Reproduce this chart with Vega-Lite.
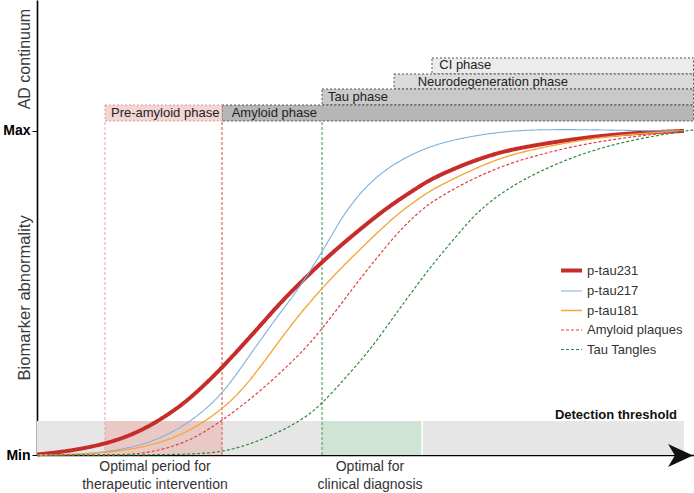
{
  "$schema": "https://vega.github.io/schema/vega-lite/v6.json",
  "width": 657,
  "height": 455,
  "autosize": {"type": "none"},
  "padding": {"left": 37, "top": 0, "right": 0, "bottom": 38},
  "config": {
    "font": "Liberation Sans",
    "view": {"stroke": null},
    "axis": {"grid": false, "title": null},
    "axisX": {"domainColor": "#000", "domainWidth": 1.6, "ticks": false, "labels": false},
    "axisY": {"domainColor": "#000", "domainWidth": 1.6, "tickColor": "#000", "tickSize": 5, "labelFontSize": 14, "labelFontWeight": "bold", "labelColor": "#000", "labelPadding": 2, "labelFlush": false, "labelOverlap": false}
  },
  "resolve": {"scale": {"fill": "independent"}},
  "datasets": {
    "curves": [
      {"series": "p-tau231", "t": 0, "v": 0.15}, {"series": "p-tau231", "t": 5.02, "v": 1.23}, {"series": "p-tau231", "t": 10.35, "v": 3.4}, {"series": "p-tau231", "t": 14.16, "v": 6.0}, {"series": "p-tau231", "t": 17.5, "v": 9.3}, {"series": "p-tau231", "t": 21.77, "v": 14.9}, {"series": "p-tau231", "t": 24.81, "v": 20.3}, {"series": "p-tau231", "t": 28.16, "v": 26.85}, {"series": "p-tau231", "t": 33.94, "v": 39.81}, {"series": "p-tau231", "t": 36.99, "v": 46.91}, {"series": "p-tau231", "t": 40.03, "v": 53.09}, {"series": "p-tau231", "t": 43.38, "v": 59.57}, {"series": "p-tau231", "t": 47.18, "v": 66.36}, {"series": "p-tau231", "t": 52.21, "v": 74.69}, {"series": "p-tau231", "t": 55.25, "v": 79.01}, {"series": "p-tau231", "t": 58.3, "v": 83.02}, {"series": "p-tau231", "t": 60.27, "v": 85.49}, {"series": "p-tau231", "t": 65.45, "v": 90.12}, {"series": "p-tau231", "t": 70.47, "v": 93.52}, {"series": "p-tau231", "t": 75.04, "v": 95.37}, {"series": "p-tau231", "t": 82.65, "v": 97.84}, {"series": "p-tau231", "t": 90.26, "v": 99.38}, {"series": "p-tau231", "t": 98.48, "v": 100},
      {"series": "p-tau217", "t": 0, "v": 0}, {"series": "p-tau217", "t": 5.02, "v": 0.15}, {"series": "p-tau217", "t": 10.35, "v": 0.77}, {"series": "p-tau217", "t": 17.2, "v": 3.4}, {"series": "p-tau217", "t": 23.29, "v": 9.88}, {"series": "p-tau217", "t": 28.16, "v": 18.52}, {"series": "p-tau217", "t": 31.66, "v": 28.7}, {"series": "p-tau217", "t": 35.01, "v": 38.3}, {"series": "p-tau217", "t": 36.99, "v": 43.83}, {"series": "p-tau217", "t": 40.03, "v": 51.85}, {"series": "p-tau217", "t": 43.38, "v": 62.65}, {"series": "p-tau217", "t": 45.81, "v": 71.2}, {"series": "p-tau217", "t": 47.18, "v": 75.6}, {"series": "p-tau217", "t": 49.62, "v": 81.9}, {"series": "p-tau217", "t": 52.21, "v": 86.7}, {"series": "p-tau217", "t": 54.79, "v": 90.4}, {"series": "p-tau217", "t": 58.3, "v": 94.0}, {"series": "p-tau217", "t": 61.34, "v": 96.2}, {"series": "p-tau217", "t": 65.45, "v": 98.15}, {"series": "p-tau217", "t": 70.47, "v": 99.69}, {"series": "p-tau217", "t": 75.04, "v": 100.4}, {"series": "p-tau217", "t": 82.65, "v": 100.46}, {"series": "p-tau217", "t": 90.26, "v": 100.15}, {"series": "p-tau217", "t": 98.48, "v": 100},
      {"series": "p-tau181", "t": 0, "v": 0}, {"series": "p-tau181", "t": 5.02, "v": 0.06}, {"series": "p-tau181", "t": 10.35, "v": 0.62}, {"series": "p-tau181", "t": 17.2, "v": 2.62}, {"series": "p-tau181", "t": 22.83, "v": 6.79}, {"series": "p-tau181", "t": 28.16, "v": 13.89}, {"series": "p-tau181", "t": 31.66, "v": 20.99}, {"series": "p-tau181", "t": 35.01, "v": 29.94}, {"series": "p-tau181", "t": 38.96, "v": 41.05}, {"series": "p-tau181", "t": 43.38, "v": 51.54}, {"series": "p-tau181", "t": 47.18, "v": 59.57}, {"series": "p-tau181", "t": 52.21, "v": 69.44}, {"series": "p-tau181", "t": 55.25, "v": 75}, {"series": "p-tau181", "t": 58.3, "v": 79.4}, {"series": "p-tau181", "t": 60.27, "v": 82.1}, {"series": "p-tau181", "t": 65.45, "v": 87.35}, {"series": "p-tau181", "t": 70.47, "v": 91.67}, {"series": "p-tau181", "t": 75.04, "v": 94.14}, {"series": "p-tau181", "t": 82.65, "v": 97.22}, {"series": "p-tau181", "t": 90.26, "v": 99.07}, {"series": "p-tau181", "t": 98.48, "v": 100},
      {"series": "Amyloid plaques", "t": 0, "v": 0}, {"series": "Amyloid plaques", "t": 10.35, "v": 0}, {"series": "Amyloid plaques", "t": 14.16, "v": 0.15}, {"series": "Amyloid plaques", "t": 17.2, "v": 0.77}, {"series": "Amyloid plaques", "t": 22.83, "v": 3.7}, {"series": "Amyloid plaques", "t": 28.16, "v": 10.49}, {"series": "Amyloid plaques", "t": 33.94, "v": 19.5}, {"series": "Amyloid plaques", "t": 40.03, "v": 31.0}, {"series": "Amyloid plaques", "t": 43.38, "v": 38.8}, {"series": "Amyloid plaques", "t": 47.64, "v": 50.3}, {"series": "Amyloid plaques", "t": 49.62, "v": 55.5}, {"series": "Amyloid plaques", "t": 54.79, "v": 68.6}, {"series": "Amyloid plaques", "t": 58.3, "v": 75.3}, {"series": "Amyloid plaques", "t": 60.27, "v": 78.4}, {"series": "Amyloid plaques", "t": 65.45, "v": 84.5}, {"series": "Amyloid plaques", "t": 70.47, "v": 88.9}, {"series": "Amyloid plaques", "t": 75.04, "v": 92.0}, {"series": "Amyloid plaques", "t": 82.65, "v": 95.8}, {"series": "Amyloid plaques", "t": 90.26, "v": 98.2}, {"series": "Amyloid plaques", "t": 98.48, "v": 100},
      {"series": "Tau Tangles", "t": 0, "v": 0}, {"series": "Tau Tangles", "t": 14.16, "v": 0}, {"series": "Tau Tangles", "t": 21.77, "v": 0.15}, {"series": "Tau Tangles", "t": 28.16, "v": 0.62}, {"series": "Tau Tangles", "t": 33.94, "v": 4.32}, {"series": "Tau Tangles", "t": 40.03, "v": 10.19}, {"series": "Tau Tangles", "t": 43.38, "v": 15.74}, {"series": "Tau Tangles", "t": 47.34, "v": 24.69}, {"series": "Tau Tangles", "t": 50.68, "v": 32.41}, {"series": "Tau Tangles", "t": 53.73, "v": 41.05}, {"series": "Tau Tangles", "t": 55.25, "v": 45.37}, {"series": "Tau Tangles", "t": 58.3, "v": 53.7}, {"series": "Tau Tangles", "t": 60.27, "v": 59.0}, {"series": "Tau Tangles", "t": 65.45, "v": 71.5}, {"series": "Tau Tangles", "t": 67.43, "v": 75.6}, {"series": "Tau Tangles", "t": 70.47, "v": 80.6}, {"series": "Tau Tangles", "t": 75.04, "v": 86.3}, {"series": "Tau Tangles", "t": 82.65, "v": 93.0}, {"series": "Tau Tangles", "t": 90.26, "v": 97.2}, {"series": "Tau Tangles", "t": 98.48, "v": 100}, {"series": "Tau Tangles", "t": 100, "v": 100.3}
    ],
    "bands": [
      {"zone": "Detection threshold", "start": 0, "end": 98.48, "lo": 0, "hi": 10.49},
      {"zone": "Optimal period for therapeutic intervention", "start": 10.35, "end": 28.16, "lo": 0, "hi": 10.49},
      {"zone": "Optimal for clinical diagnosis", "start": 43.38, "end": 58.6, "lo": 0, "hi": 10.49}
    ],
    "phases": [
      {"phase": "CI phase", "start": 60.12, "end": 99.92, "lo": 117.59, "hi": 122.53, "lx": 61.23},
      {"phase": "Neurodegeneration phase", "start": 54.34, "end": 99.92, "lo": 112.96, "hi": 117.59, "lx": 57.94},
      {"phase": "Tau phase", "start": 43.38, "end": 99.92, "lo": 108.02, "hi": 112.96, "lx": 44.3},
      {"phase": "Amyloid phase", "start": 28.16, "end": 99.92, "lo": 103.09, "hi": 108.02, "lx": 29.63},
      {"phase": "Pre-amyloid phase", "start": 10.35, "end": 28.16, "lo": 103.09, "hi": 108.02, "lx": 11.26}
    ]
  },
  "layer": [
    {
      "data": {"name": "bands"},
      "mark": {"type": "rect"},
      "encoding": {
        "x": {"field": "start", "type": "quantitative", "scale": {"domain": [0, 100], "nice": false, "zero": false}, "axis": {"title": null}},
        "x2": {"field": "end"},
        "y": {"field": "lo", "type": "quantitative", "scale": {"domain": [0, 140.43], "nice": false, "zero": false}, "axis": {"title": null}},
        "y2": {"field": "hi"},
        "fill": {"field": "zone", "type": "nominal", "scale": {"domain": ["Detection threshold", "Optimal period for therapeutic intervention", "Optimal for clinical diagnosis"], "range": ["#e6e6e6", "#e9c9c6", "#d0e4d6"]}, "legend": null}
      }
    },
    {
      "data": {"values": [{}]},
      "mark": {"type": "rule", "color": "#ffffff", "strokeWidth": 1.5},
      "encoding": {"x": {"datum": 58.6, "type": "quantitative"}, "y": {"datum": 0, "type": "quantitative"}, "y2": {"datum": 10.49}}
    },
    {
      "data": {"values": [{}]},
      "mark": {"type": "rule", "color": "#eaa3a3", "strokeWidth": 1, "strokeDash": [3, 2]},
      "encoding": {"x": {"datum": 10.35, "type": "quantitative"}, "y": {"datum": 0, "type": "quantitative"}, "y2": {"datum": 103.09}}
    },
    {
      "data": {"values": [{}]},
      "mark": {"type": "rule", "color": "#e07a7a", "strokeWidth": 1.4, "strokeDash": [3, 2]},
      "encoding": {"x": {"datum": 28.16, "type": "quantitative"}, "y": {"datum": 0, "type": "quantitative"}, "y2": {"datum": 103.09}}
    },
    {
      "data": {"values": [{}]},
      "mark": {"type": "rule", "color": "#6fb07f", "strokeWidth": 1.4, "strokeDash": [3, 2]},
      "encoding": {"x": {"datum": 43.38, "type": "quantitative"}, "y": {"datum": 0, "type": "quantitative"}, "y2": {"datum": 103.09}}
    },
    {
      "data": {"name": "phases"},
      "mark": {"type": "rect", "strokeWidth": 1, "strokeDash": [2, 2]},
      "encoding": {
        "x": {"field": "start", "type": "quantitative"},
        "x2": {"field": "end"},
        "y": {"field": "lo", "type": "quantitative"},
        "y2": {"field": "hi"},
        "fill": {"field": "phase", "type": "nominal", "scale": {"domain": ["Pre-amyloid phase", "Amyloid phase", "Tau phase", "Neurodegeneration phase", "CI phase"], "range": ["#f3d5d4", "#b6b6b6", "#c9c9c9", "#dbdbdb", "#ececec"]}, "legend": null},
        "stroke": {"condition": {"test": "datum.phase === 'Pre-amyloid phase'", "value": "#e39a9a"}, "value": "#555555"}
      }
    },
    {
      "data": {"name": "phases"},
      "mark": {"type": "text", "align": "left", "baseline": "top", "fontSize": 13, "color": "#222222", "dy": 1.5},
      "encoding": {
        "x": {"field": "lx", "type": "quantitative"},
        "y": {"field": "hi", "type": "quantitative"},
        "text": {"field": "phase"}
      }
    },
    {
      "data": {"name": "curves"},
      "mark": {"type": "line", "interpolate": "basis", "strokeCap": "butt"},
      "encoding": {
        "x": {"field": "t", "type": "quantitative"},
        "y": {"field": "v", "type": "quantitative", "axis": {"values": [0, 100], "labelExpr": "datum.value == 100 ? 'Max' : 'Min'", "title": null}},
        "order": {"field": "t", "type": "quantitative"},
        "color": {"field": "series", "type": "nominal", "scale": {"domain": ["p-tau231", "p-tau217", "p-tau181", "Amyloid plaques", "Tau Tangles"], "range": ["#c62d2a", "#7db1dc", "#f2a83c", "#e0403f", "#2e8a3d"]},
          "legend": {"title": null, "orient": "none", "legendX": 522, "legendY": 258, "padding": 0, "symbolType": "stroke", "symbolSize": 441, "labelFontSize": 13, "labelColor": "#333333", "labelOffset": 3, "rowPadding": 0.5}},
        "strokeDash": {"field": "series", "type": "nominal", "scale": {"domain": ["p-tau231", "p-tau217", "p-tau181", "Amyloid plaques", "Tau Tangles"], "range": [[1, 0], [1, 0], [1, 0], [3, 2], [3, 2]]},
          "legend": {"title": null, "orient": "none", "legendX": 522, "legendY": 258, "padding": 0, "symbolType": "stroke", "symbolSize": 441, "labelFontSize": 13, "labelColor": "#333333", "labelOffset": 3, "rowPadding": 0.5}},
        "strokeWidth": {"field": "series", "type": "nominal", "scale": {"type": "ordinal", "domain": ["p-tau231", "p-tau217", "p-tau181", "Amyloid plaques", "Tau Tangles"], "range": [4, 1.1, 1.4, 1.2, 1.2]},
          "legend": {"title": null, "orient": "none", "legendX": 522, "legendY": 258, "padding": 0, "symbolType": "stroke", "symbolSize": 441, "labelFontSize": 13, "labelColor": "#333333", "labelOffset": 3, "rowPadding": 0.5}}
      }
    },
    {
      "data": {"values": [{}]},
      "mark": {"type": "point", "shape": "M 1 0 L -1 -0.92 L -0.45 0 L -1 0.92 Z", "size": 625, "filled": true, "color": "#111111", "opacity": 1},
      "encoding": {"x": {"datum": 97.95, "type": "quantitative"}, "y": {"datum": -0.15, "type": "quantitative"}}
    },
    {
      "data": {"values": [{}]},
      "mark": {"type": "text", "align": "right", "baseline": "middle", "fontSize": 13, "fontWeight": "bold", "color": "#111111"},
      "encoding": {"x": {"datum": 97.41, "type": "quantitative"}, "y": {"datum": 12.35, "type": "quantitative"}, "text": {"value": "Detection threshold"}}
    },
    {
      "data": {"values": [{}]},
      "mark": {"type": "text", "align": "center", "baseline": "middle", "fontSize": 16, "angle": 270, "color": "#3a3a3a"},
      "encoding": {"x": {"datum": -1.83, "type": "quantitative"}, "y": {"datum": 122.2, "type": "quantitative"}, "text": {"value": "AD continuum"}}
    },
    {
      "data": {"values": [{}]},
      "mark": {"type": "text", "align": "center", "baseline": "middle", "fontSize": 16.5, "angle": 270, "color": "#3a3a3a"},
      "encoding": {"x": {"datum": -1.83, "type": "quantitative"}, "y": {"datum": 48.5, "type": "quantitative"}, "text": {"value": "Biomarker abnormality"}}
    },
    {
      "data": {"values": [{}]},
      "mark": {"type": "text", "align": "center", "baseline": "top", "fontSize": 14, "lineHeight": 18, "lineBreak": "\n", "color": "#333333"},
      "encoding": {"x": {"datum": 17.96, "type": "quantitative"}, "y": {"datum": -1.5, "type": "quantitative"}, "text": {"value": "Optimal period for\ntherapeutic intervention"}}
    },
    {
      "data": {"values": [{}]},
      "mark": {"type": "text", "align": "center", "baseline": "top", "fontSize": 14, "lineHeight": 18, "lineBreak": "\n", "color": "#333333"},
      "encoding": {"x": {"datum": 50.68, "type": "quantitative"}, "y": {"datum": -1.5, "type": "quantitative"}, "text": {"value": "Optimal for\nclinical diagnosis"}}
    }
  ]
}
